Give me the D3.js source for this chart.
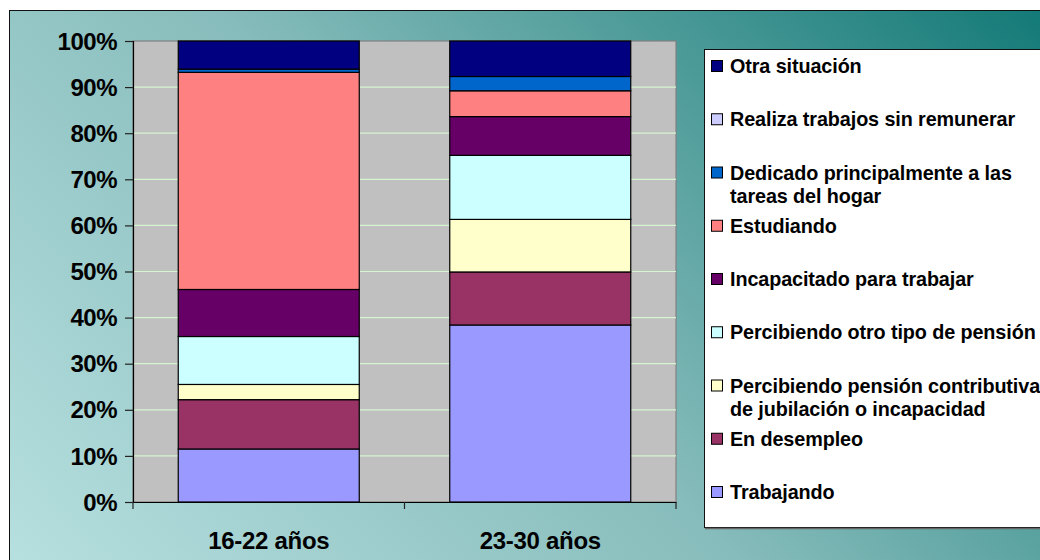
<!DOCTYPE html>
<html>
<head>
<meta charset="utf-8">
<script src="https://cdn.jsdelivr.net/npm/d3@7"></script>
<style>
  html, body { margin: 0; padding: 0; background: #ffffff; }
  svg { display: block; font-family: "Liberation Sans", Arial, sans-serif; }
</style>
</head>
<body>
<svg id="chart" width="1040" height="560"></svg>
<script>
// ---- data ----
const categories = ["16-22 años", "23-30 años"];
// series listed bottom-to-top (stack order)
const seriesNames = [
  "Trabajando",
  "En desempleo",
  "Percibiendo pensión contributiva de jubilación o incapacidad",
  "Percibiendo otro tipo de pensión",
  "Incapacitado para trabajar",
  "Estudiando",
  "Dedicado principalmente a las tareas del hogar",
  "Realiza trabajos sin remunerar",
  "Otra situación"
];
const trabajando   = [11.5, 38.4];
const desempleo    = [10.7, 11.5];
const contributiva = [3.3, 11.4];
const otroPension  = [10.4, 13.9];
const incapacitado = [10.2, 8.4];
const estudiando   = [47.1, 5.6];
const dedicado     = [0.7, 3.1];
const realiza      = [0, 0];
const otra         = [6.1, 7.7];
const seriesValues = [trabajando, desempleo, contributiva, otroPension, incapacitado, estudiando, dedicado, realiza, otra];
const seriesColors = ["#9999ff", "#993366", "#ffffcc", "#ccffff", "#660066", "#ff8080", "#0066cc", "#ccccff", "#000080"];
// legend (top-to-bottom) with line breaks as displayed
const legendLines = [
  ["Otra situación"],
  ["Realiza trabajos sin remunerar"],
  ["Dedicado principalmente a las", "tareas del hogar"],
  ["Estudiando"],
  ["Incapacitado para trabajar"],
  ["Percibiendo otro tipo de pensión"],
  ["Percibiendo pensión contributiva", "de jubilación o incapacidad"],
  ["En desempleo"],
  ["Trabajando"]
];
const yTicks = [0, 10, 20, 30, 40, 50, 60, 70, 80, 90, 100];

// ---- drawing ----
const svg = d3.select("#chart");
const defs = svg.append("defs");
const grad = defs.append("linearGradient").attr("id", "bg")
  .attr("gradientUnits", "userSpaceOnUse")
  .attr("x1", 150).attr("y1", 700).attr("x2", 1000).attr("y2", -100);
grad.append("stop").attr("offset", "0%").attr("stop-color", "#b6dfdf");
grad.append("stop").attr("offset", "45%").attr("stop-color", "#86bcbb");
grad.append("stop").attr("offset", "100%").attr("stop-color", "#0b7572");

svg.append("rect").attr("x", 9.5).attr("y", 10.5).attr("width", 1040).attr("height", 560)
  .attr("fill", "url(#bg)").attr("stroke", "#111").attr("stroke-width", 1);

const plot = { left: 133, right: 676, top: 41, bottom: 502 };

const x = d3.scaleBand().domain(categories).range([plot.left, plot.right])
  .paddingInner(1/3).paddingOuter(1/6);
const y = d3.scaleLinear().domain([0, 100]).range([plot.bottom, plot.top]);

// plot area
svg.append("rect").attr("x", plot.left).attr("y", plot.top)
  .attr("width", plot.right - plot.left).attr("height", plot.bottom - plot.top)
  .attr("fill", "#c0c0c0").attr("stroke", "#808080").attr("stroke-width", 1.2);

// gridlines
svg.append("g").selectAll("line").data(yTicks.filter(t => t > 0 && t < 100)).join("line")
  .attr("x1", plot.left).attr("x2", plot.right)
  .attr("y1", d => y(d)).attr("y2", d => y(d))
  .attr("stroke", "#d4f5d0").attr("stroke-width", 1.2);

// stacked data
const table = categories.map((c, i) => {
  const row = { cat: c };
  seriesNames.forEach((s, k) => row[s] = seriesValues[k][i]);
  return row;
});
const stack = d3.stack().keys(seriesNames)(table);

svg.append("g").selectAll("g").data(stack).join("g")
  .attr("fill", (d, i) => seriesColors[i])
  .selectAll("rect").data(d => d.filter(p => p[1] - p[0] > 0)).join("rect")
  .attr("x", d => x(d.data.cat))
  .attr("width", x.bandwidth())
  .attr("y", d => y(d[1]))
  .attr("height", d => y(d[0]) - y(d[1]))
  .attr("stroke", "#000").attr("stroke-width", 1.2);

// y axis
const yAxis = svg.append("g").attr("transform", `translate(${plot.left},0)`)
  .call(d3.axisLeft(y).tickValues(yTicks).tickFormat(d => d + "%").tickSize(8).tickPadding(8));
yAxis.select(".domain").attr("stroke", "#000").attr("stroke-width", 1.2);
yAxis.selectAll(".tick line").attr("stroke", "#222").attr("stroke-width", 1.2);
yAxis.selectAll("text").attr("font-size", 24).attr("font-weight", "bold").attr("fill", "#000")
  .attr("letter-spacing", -0.5).attr("dy", "0.34em");

// x axis
const xAxis = svg.append("g").attr("transform", `translate(0,${plot.bottom})`)
  .call(d3.axisBottom(x).tickSize(0).tickPadding(30));
xAxis.select(".domain").attr("stroke", "#000").attr("stroke-width", 1.2);
xAxis.selectAll("text").attr("font-size", 24).attr("font-weight", "bold").attr("fill", "#000")
  .attr("letter-spacing", -0.3);
const bounds = [plot.left, (plot.left + plot.right) / 2, plot.right];
xAxis.selectAll(".bt").data(bounds).join("line").attr("class", "bt")
  .attr("x1", d => d).attr("x2", d => d).attr("y1", 0).attr("y2", 7)
  .attr("stroke", "#222").attr("stroke-width", 1.2);

// legend
const lg = svg.append("g");
lg.append("rect").attr("x", 704.5).attr("y", 49.5).attr("width", 400).attr("height", 478)
  .attr("fill", "#fff").attr("stroke", "#111").attr("stroke-width", 1);
lg.append("line").attr("x1", 705).attr("x2", 1040).attr("y1", 528.5).attr("y2", 528.5)
  .attr("stroke", "#666").attr("stroke-width", 1.5);
const legendColors = seriesColors.slice().reverse();
const items = lg.selectAll("g.item").data(legendLines).join("g").attr("class", "item")
  .attr("transform", (d, i) => `translate(0,${66 + i * 53.25})`);
items.append("rect").attr("x", 711.5).attr("y", -5.5).attr("width", 11).attr("height", 11)
  .attr("fill", (d, i) => legendColors[i]).attr("stroke", "#000").attr("stroke-width", 1);
items.each(function(lines) {
  const t = d3.select(this).append("text").attr("x", 730).attr("y", 7)
    .attr("font-size", 19.8).attr("font-weight", "bold").attr("fill", "#000")
    .attr("letter-spacing", -0.1);
  lines.forEach((ln, j) => t.append("tspan").attr("x", 730).attr("dy", j === 0 ? 0 : 23).text(ln));
});
</script>
</body>
</html>
